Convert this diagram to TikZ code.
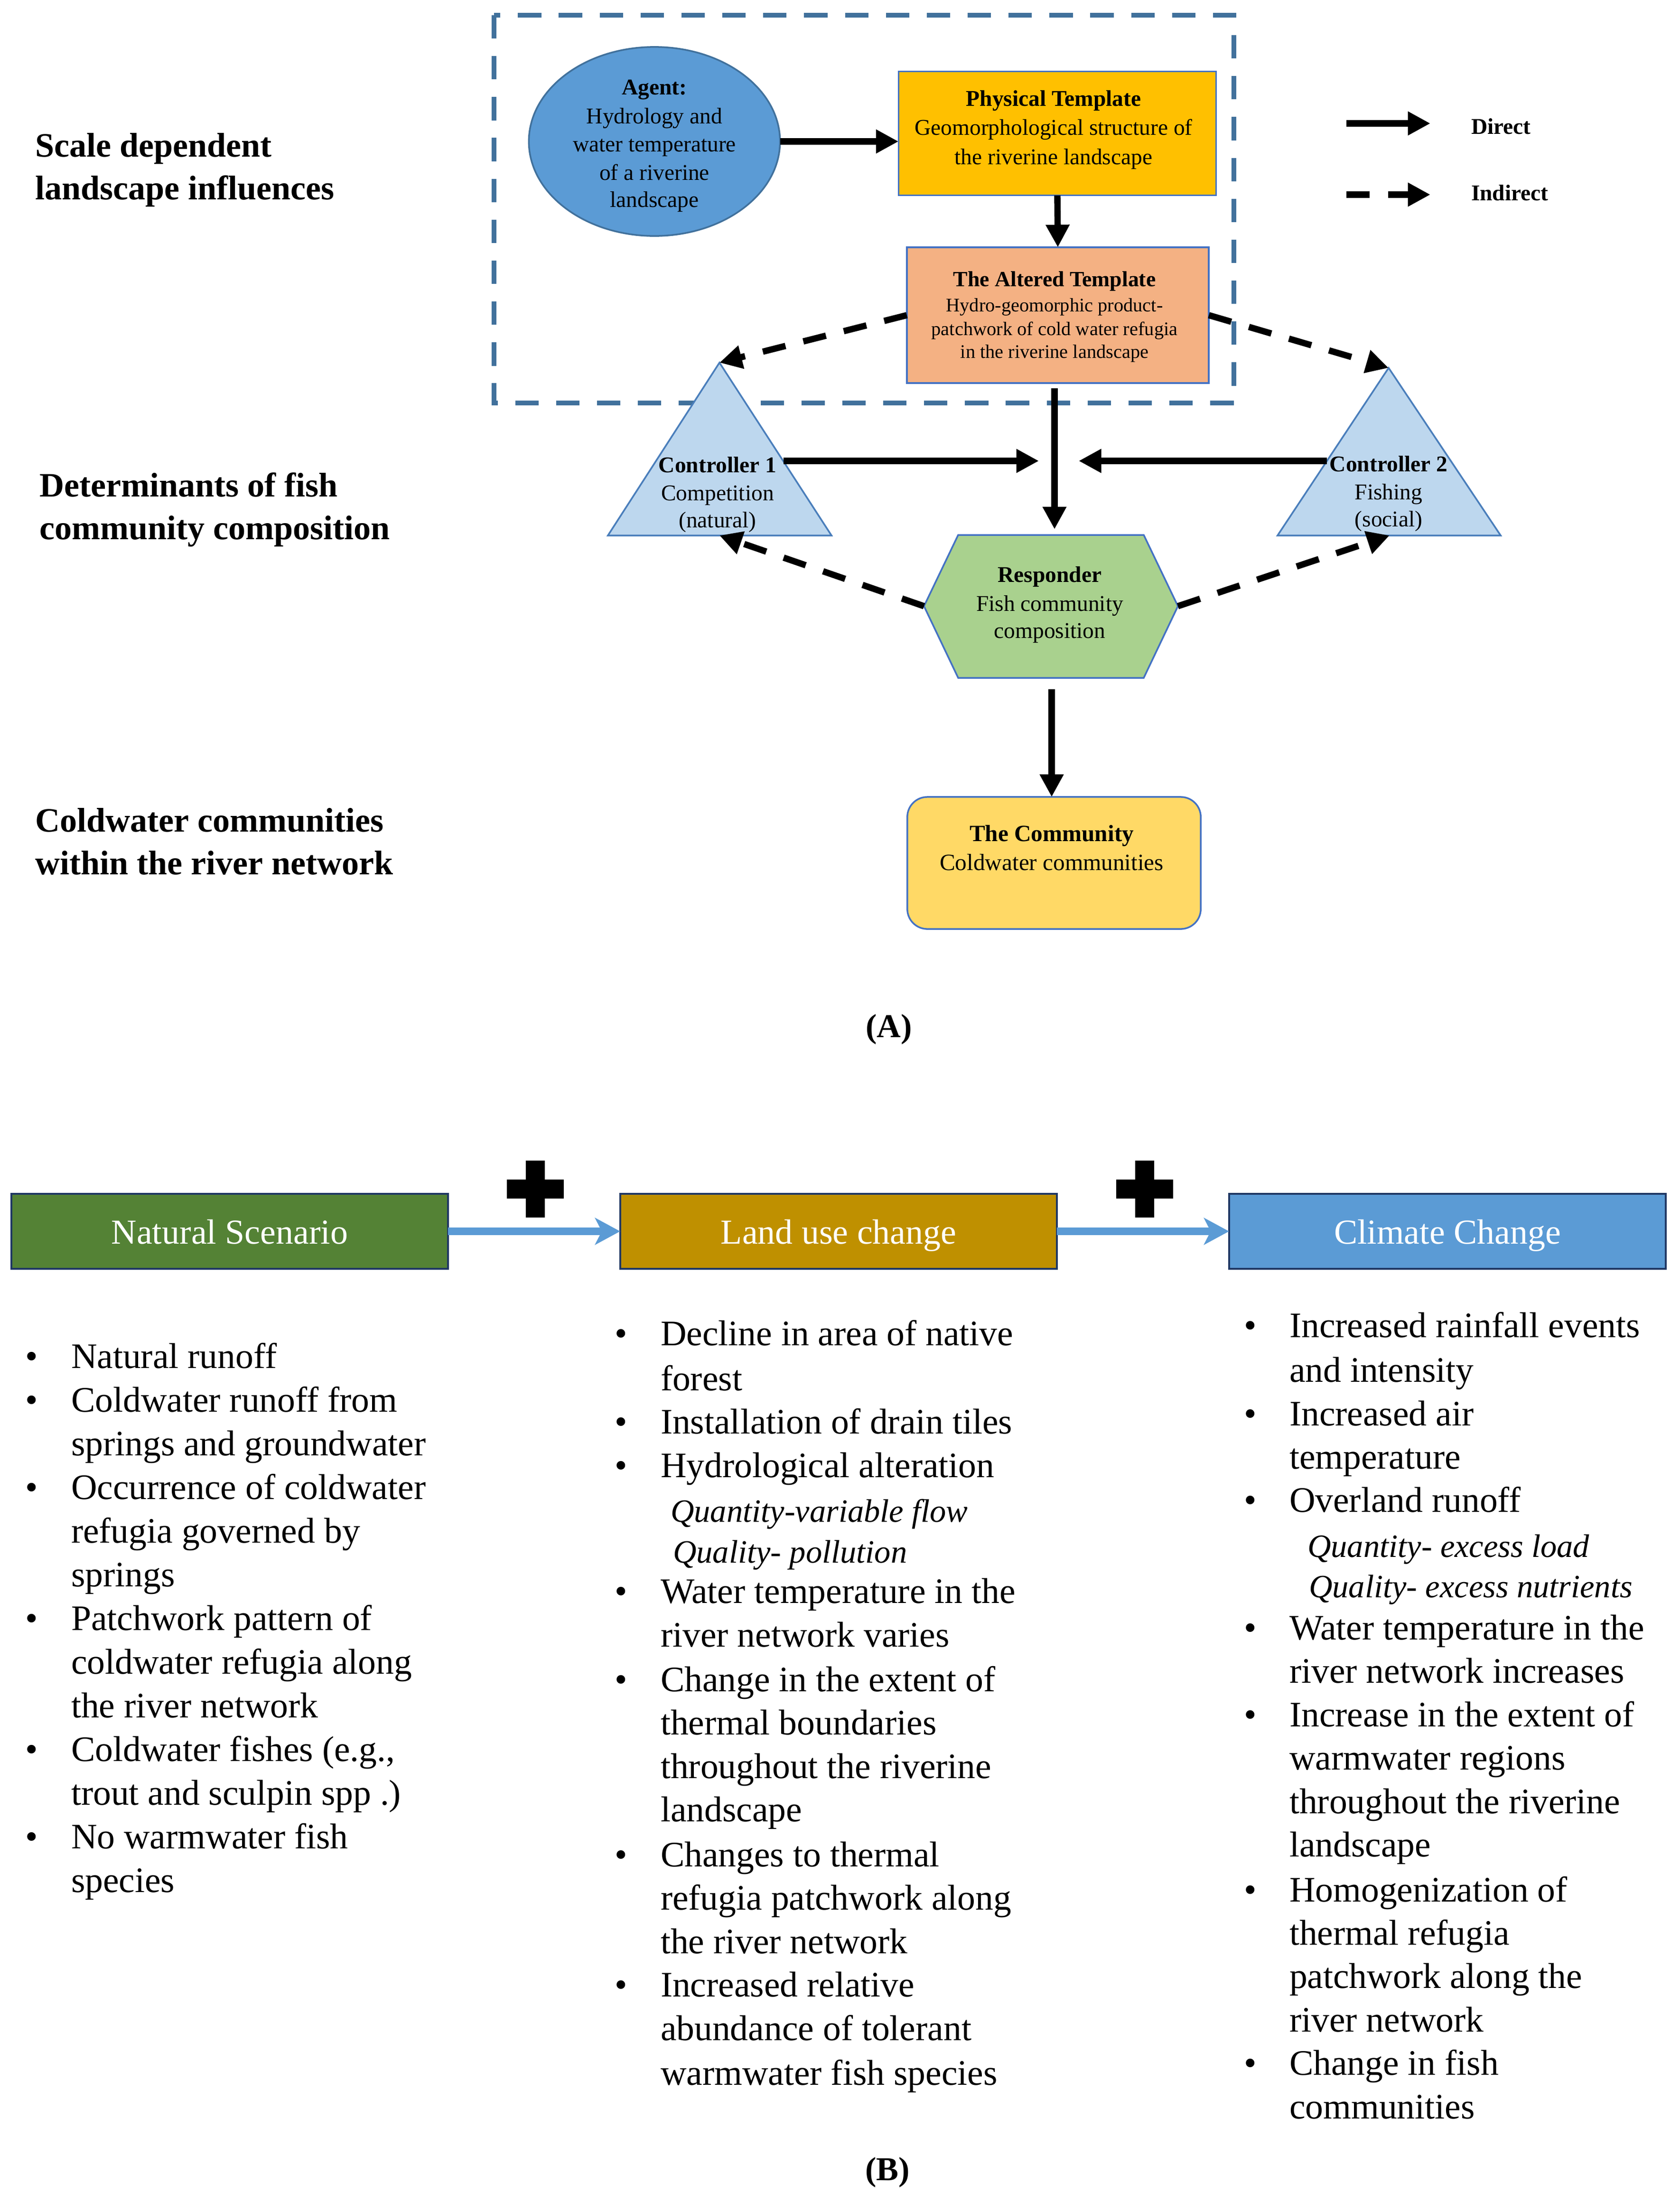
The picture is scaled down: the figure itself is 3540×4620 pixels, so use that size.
\documentclass[tikz,border=0pt]{standalone}
\usepackage{fontspec}
\setmainfont{Liberation Serif}
\usetikzlibrary{arrows.meta,shapes.geometric}
\definecolor{dboxblue}{HTML}{41719C}
\definecolor{agentfill}{HTML}{5B9BD5}
\definecolor{agentline}{HTML}{41719C}
\definecolor{boxline}{HTML}{4472C4}
\definecolor{physfill}{HTML}{FFC000}
\definecolor{altfill}{HTML}{F4B183}
\definecolor{ctrlfill}{HTML}{BDD7EE}
\definecolor{ctrlline}{HTML}{4A7EBB}
\definecolor{respfill}{HTML}{A9D18E}
\definecolor{commfill}{HTML}{FFD966}
\definecolor{natfill}{HTML}{548235}
\definecolor{landfill}{HTML}{BF9000}
\definecolor{climfill}{HTML}{5B9BD5}
\definecolor{hdrline}{HTML}{203864}
\definecolor{arrowblue}{HTML}{5B9BD5}
\begin{document}
\begin{tikzpicture}[x=0.01cm,y=-0.01cm,
  every node/.style={inner sep=0pt, outer sep=0pt},
  lab/.style={anchor=base west, font=\fontsize{20.5}{25}\selectfont\bfseries},
  tb/.style={anchor=base, font=\fontsize{13.5}{16}\selectfont\bfseries},
  tn/.style={anchor=base, font=\fontsize{13.5}{16}\selectfont},
  ts/.style={anchor=base, font=\fontsize{11.5}{14}\selectfont},
  tc/.style={anchor=base, font=\fontsize{14}{17}\selectfont},
  tcb/.style={anchor=base, font=\fontsize{14}{17}\selectfont\bfseries},
  leg/.style={anchor=base west, font=\fontsize{13.5}{16}\selectfont\bfseries},
  captext/.style={anchor=base, font=\fontsize{20}{24}\selectfont\bfseries},
  btext/.style={anchor=base west, font=\fontsize{21.5}{26}\selectfont},
  itext/.style={anchor=base west, font=\fontsize{19.5}{24}\selectfont\itshape},
  hdr/.style={draw=hdrline, line width=1.2pt, minimum width=9.2cm, minimum height=1.58cm, text height=14.8pt, text depth=0pt, text=white, font=\fontsize{21}{25}\selectfont},
  plusbar/.style={fill=black},
  direct/.style={line width=3.8pt, -{Triangle[length=13.5pt,width=13.5pt]}},
  indirect/.style={direct, dash pattern=on 14pt off 11pt},
  bluearrow/.style={draw=arrowblue, line width=4.5pt, -{Stealth[length=15pt,width=16pt,inset=4pt]}},
  shapeline/.style={line width=1pt},
]
\useasboundingbox (0,0) rectangle (3540,4620);

% ---------------- Part A ----------------
\draw[dboxblue, line width=3.1pt, dash pattern=on 14pt off 10.5pt] (1041,32) rectangle (2600,849);

\node[ellipse, draw=agentline, shapeline, fill=agentfill, minimum width=5.29cm, minimum height=3.98cm] (agent) at (1379,298) {};
\node[draw=boxline, shapeline, fill=physfill, minimum width=6.69cm, minimum height=2.61cm] (phys) at (2228,281) {};
\node[draw=boxline, shapeline, fill=altfill, minimum width=6.36cm, minimum height=2.86cm] (alt) at (2229,664) {};
\node[draw=boxline, shapeline, fill=commfill, rounded corners=12pt, minimum width=6.18cm, minimum height=2.78cm] (comm) at (2221,1818) {};

% controllers (triangles)
\coordinate (c1a) at (1516,764);
\coordinate (c1l) at (1281,1128);
\coordinate (c1r) at (1752,1128);
\coordinate (c1b) at (1516,1128);
\coordinate (c2a) at (2926,775);
\coordinate (c2l) at (2692,1128);
\coordinate (c2r) at (3162,1128);
\coordinate (c2b) at (2928,1128);
\draw[draw=ctrlline, shapeline, fill=ctrlfill] (c1l) -- (c1a) -- (c1r) -- cycle;
\draw[draw=ctrlline, shapeline, fill=ctrlfill] (c2l) -- (c2a) -- (c2r) -- cycle;

% responder (hexagon)
\coordinate (rW) at (1947,1277);
\coordinate (rE) at (2482,1277);
\coordinate (rT) at (2222,1127);
\coordinate (rB) at (2216,1428);
\draw[draw=boxline, shapeline, fill=respfill] (2019,1127) -- (2410,1127) -- (rE) -- (2410,1428) -- (2019,1428) -- (rW) -- cycle;

% texts in part A
\node[tb] (ag1) at (1379,199) {Agent:};
\node[tn] (ag2) at (1379,260) {Hydrology and};
\node[tn] (ag3) at (1379,319) {water temperature};
\node[tn] (ag4) at (1379,379) {of a riverine};
\node[tn] (ag5) at (1379,436) {landscape};

\node[tb] (ph1) at (2220,223) {Physical Template};
\node[tn] (ph2) at (2220,284) {Geomorphological structure of};
\node[tn] (ph3) at (2220,346) {the riverine landscape};

\node[tb, font=\fontsize{13}{16}\selectfont\bfseries] (al1) at (2222,603) {The Altered Template};
\node[ts] (al2) at (2222,656) {Hydro-geomorphic product-};
\node[ts] (al3) at (2222,706) {patchwork of cold water refugia};
\node[ts] (al4) at (2222,754) {in the riverine landscape};

\node[tb] (co1a) at (1512,995) {Controller 1};
\node[tn] (co1b) at (1512,1054) {Competition};
\node[tn] (co1c) at (1512,1111) {(natural)};

\node[tb] (co2a) at (2926,993) {Controller 2};
\node[tn] (co2b) at (2926,1052) {Fishing};
\node[tn] (co2c) at (2926,1109) {(social)};

\node[tb] (re1) at (2212,1226) {Responder};
\node[tn] (re2) at (2212,1287) {Fish community};
\node[tn] (re3) at (2212,1344) {composition};

\node[tcb] (cm1) at (2216,1772) {The Community};
\node[tc] (cm2) at (2216,1833) {Coldwater communities};

% connectors part A
\draw[direct] (agent.east) -- (agent.east -| phys.west);
\draw[direct] (phys.south) -- (alt.north);
\draw[direct, shorten <=0.11cm, shorten >=0.12cm] (rT |- alt.south) -- (rT);
\coordinate (c1e) at (1651,971);
\coordinate (m1) at (2189,971);
\coordinate (c2w) at (2796,971);
\coordinate (m2) at (2273,971);
\draw[direct] (c1e) -- (m1);
\draw[direct] (c2w) -- (m2);
\draw[direct, shorten <=0.24cm] (rB) -- (rB |- comm.north);
\draw[indirect] (alt.west) -- (c1a);
\draw[indirect] (alt.east) -- (c2a);
\draw[indirect] (rW) -- (c1b);
\draw[indirect] (rE) -- (c2b);

% legend
\coordinate (lg1s) at (2837,260);
\coordinate (lg1e) at (3014,260);
\coordinate (lg2s) at (2837,410);
\coordinate (lg2e) at (3014,410);
\draw[direct] (lg1s) -- (lg1e);
\draw[indirect] (lg2s) -- (lg2e);
\node[leg] (legd) at (3100,282) {Direct};
\node[leg] (legi) at (3100,422) {Indirect};

% left labels
\node[lab] (l1a) at (74,330) {Scale dependent};
\node[lab] (l1b) at (74,420) {landscape influences};
\node[lab] (l2a) at (83,1046) {Determinants of fish};
\node[lab] (l2b) at (83,1136) {community composition};
\node[lab] (l3a) at (74,1752) {Coldwater communities};
\node[lab] (l3b) at (74,1842) {within the river network};

\node[captext] (capA) at (1873,2185) {(A)};

% ---------------- Part B ----------------
\node[hdr, fill=natfill] (nat) at (484,2594) {Natural Scenario};
\node[hdr, fill=landfill] (land) at (1767,2594) {Land use change};
\node[hdr, fill=climfill] (clim) at (3050,2594) {Climate Change};
\draw[bluearrow] (nat.east) -- (land.west);
\draw[bluearrow] (land.east) -- (clim.west);

\node[plusbar, minimum width=1.2cm, minimum height=0.4cm] (p1h) at (1128,2505) {};
\node[plusbar, minimum width=0.4cm, minimum height=1.2cm] (p1v) at (1128,2505) {};
\node[plusbar, minimum width=1.2cm, minimum height=0.4cm] (p2h) at (2412,2505) {};
\node[plusbar, minimum width=0.4cm, minimum height=1.2cm] (p2v) at (2412,2505) {};

% Natural scenario list
\foreach \yy [count=\i] in {2882,2974,3158,3434,3710,3894}
  \node[btext] (natb\i) at (54,\yy) {\textbullet};
\foreach \yy/\txt [count=\i] in {
  2882/Natural runoff,
  2974/Coldwater runoff from,
  3066/springs and groundwater,
  3158/Occurrence of coldwater,
  3250/refugia governed by,
  3342/springs,
  3434/Patchwork pattern of,
  3526/coldwater refugia along,
  3618/the river network,
  3710/{Coldwater fishes (e.g.,},
  3802/trout and sculpin spp .),
  3894/No warmwater fish,
  3986/species}
  \node[btext] (nat\i) at (150,\yy) {\txt};

% Land use list
\foreach \yy [count=\i] in {2834,3020,3112,3377,3563,3932,4206}
  \node[btext] (landb\i) at (1295,\yy) {\textbullet};
\foreach \yy/\txt [count=\i] in {
  2834/Decline in area of native,
  2929/forest,
  3020/Installation of drain tiles,
  3112/Hydrological alteration,
  3377/Water temperature in the,
  3469/river network varies,
  3563/Change in the extent of,
  3654/thermal boundaries,
  3746/throughout the riverine,
  3837/landscape,
  3932/Changes to thermal,
  4023/refugia patchwork along,
  4115/the river network,
  4206/Increased relative,
  4298/abundance of tolerant,
  4392/warmwater fish species}
  \node[btext] (land\i) at (1392,\yy) {\txt};
\node[itext] (landi1) at (1413,3206) {Quantity-variable flow};
\node[itext] (landi2) at (1418,3292) {Quality- pollution};

% Climate change list
\foreach \yy [count=\i] in {2817,3003,3185,3454,3637,4006,4371}
  \node[btext] (climb\i) at (2621,\yy) {\textbullet};
\foreach \yy/\txt [count=\i] in {
  2817/Increased rainfall events,
  2911/and intensity,
  3003/Increased air,
  3094/temperature,
  3185/Overland runoff,
  3454/Water temperature in the,
  3545/river network increases,
  3637/Increase in the extent of,
  3728/warmwater regions,
  3820/throughout the riverine,
  3911/landscape,
  4006/Homogenization of,
  4097/thermal refugia,
  4188/patchwork along the,
  4280/river network,
  4371/Change in fish,
  4463/communities}
  \node[btext] (clim\i) at (2717,\yy) {\txt};
\node[itext] (climi1) at (2755,3280) {Quantity- excess load};
\node[itext] (climi2) at (2758,3365) {Quality- excess nutrients};

\node[captext] (capB) at (1870,4593) {(B)};
\end{tikzpicture}
\end{document}
